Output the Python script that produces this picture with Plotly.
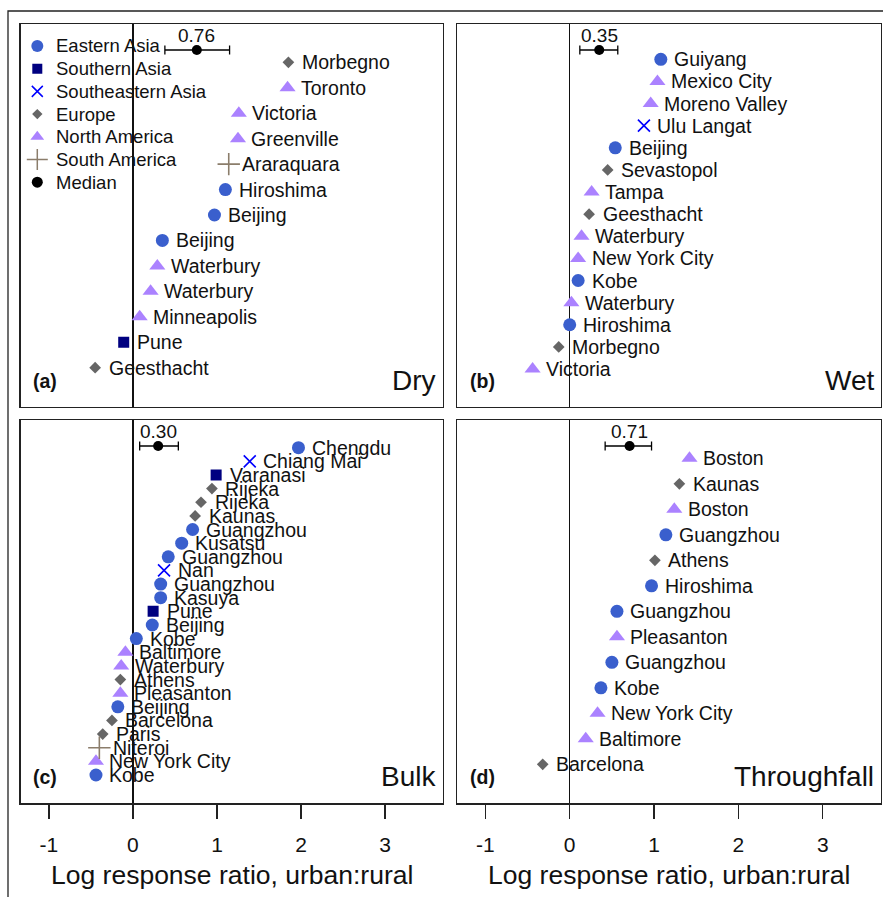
import plotly.graph_objects as go

# ---------------- data ----------------
dry_sites = ["Morbegno", "Toronto", "Victoria", "Greenville", "Araraquara", "Hiroshima",
             "Beijing", "Beijing", "Waterbury", "Waterbury", "Minneapolis", "Pune", "Geesthacht"]
dry_regions = ["Europe", "North America", "North America", "North America", "South America",
               "Eastern Asia", "Eastern Asia", "Eastern Asia", "North America", "North America",
               "North America", "Southern Asia", "Europe"]
dry_lrr = [1.85, 1.84, 1.26, 1.25, 1.14, 1.10, 0.97, 0.35, 0.29, 0.21, 0.08, -0.11, -0.45]

wet_sites = ["Guiyang", "Mexico City", "Moreno Valley", "Ulu Langat", "Beijing", "Sevastopol",
             "Tampa", "Geesthacht", "Waterbury", "New York City", "Kobe", "Waterbury",
             "Hiroshima", "Morbegno", "Victoria"]
wet_regions = ["Eastern Asia", "North America", "North America", "Southeastern Asia", "Eastern Asia",
               "Europe", "North America", "Europe", "North America", "North America",
               "Eastern Asia", "North America", "Eastern Asia", "Europe", "North America"]
wet_lrr = [1.08, 1.04, 0.96, 0.88, 0.54, 0.45, 0.26, 0.23, 0.14, 0.10, 0.10, 0.02, 0.00, -0.13, -0.44]

bulk_sites = ["Chengdu", "Chiang Mai", "Varanasi", "Rijeka", "Rijeka", "Kaunas", "Guangzhou",
              "Kusatsu", "Guangzhou", "Nan", "Guangzhou", "Kasuya", "Pune", "Beijing", "Kobe",
              "Baltimore", "Waterbury", "Athens", "Pleasanton", "Beijing", "Barcelona", "Paris",
              "Niteroi", "New York City", "Kobe"]
bulk_regions = ["Eastern Asia", "Southeastern Asia", "Southern Asia", "Europe", "Europe", "Europe",
                "Eastern Asia", "Eastern Asia", "Eastern Asia", "Southeastern Asia", "Eastern Asia",
                "Eastern Asia", "Southern Asia", "Eastern Asia", "Eastern Asia", "North America",
                "North America", "Europe", "North America", "Eastern Asia", "Europe", "Europe",
                "South America", "North America", "Eastern Asia"]
bulk_lrr = [1.97, 1.39, 0.99, 0.94, 0.81, 0.74, 0.71, 0.58, 0.42, 0.37, 0.33, 0.33, 0.24, 0.23,
            0.04, -0.09, -0.14, -0.15, -0.15, -0.18, -0.25, -0.36, -0.40, -0.44, -0.44]

tf_sites = ["Boston", "Kaunas", "Boston", "Guangzhou", "Athens", "Hiroshima", "Guangzhou",
            "Pleasanton", "Guangzhou", "Kobe", "New York City", "Baltimore", "Barcelona"]
tf_regions = ["North America", "Europe", "North America", "Eastern Asia", "Europe", "Eastern Asia",
              "Eastern Asia", "North America", "Eastern Asia", "Eastern Asia", "North America",
              "North America", "Europe"]
tf_lrr = [1.42, 1.30, 1.24, 1.14, 1.01, 0.97, 0.56, 0.56, 0.50, 0.37, 0.33, 0.19, -0.32]

median_values = [0.76, 0.35, 0.30, 0.71]
median_low = [0.38, 0.12, 0.08, 0.42]
median_high = [1.15, 0.57, 0.54, 0.97]
median_labels = ["0.76", "0.35", "0.30", "0.71"]

panel_letters = ["(a)", "(b)", "(c)", "(d)"]
panel_names = ["Dry", "Wet", "Bulk", "Throughfall"]

legend_labels = ["Eastern Asia", "Southern Asia", "Southeastern Asia", "Europe",
                 "North America", "South America", "Median"]

tick_values = [-1, 0, 1, 2, 3]
tick_labels = ["-1", "0", "1", "2", "3"]
x_title = "Log response ratio, urban:rural"

# ---------------- styles ----------------
FONT = "Liberation Sans, Arial, sans-serif"
styles = {
    "Eastern Asia": dict(symbol="circle", color="#3A5FCD", size=13, lsize=12),
    "Southern Asia": dict(symbol="square", color="#000080", size=11, lsize=10),
    "Southeastern Asia": dict(symbol="x-thin-open", color="#0000FF", size=12, lsize=11),
    "Europe": dict(symbol="diamond", color="#666666", size=9, lsize=8),
    "North America": dict(symbol="triangle-up", color="#AB82FF", size=14, lsize=12),
    "South America": dict(symbol="cross-thin-open", color="#8B7D6B", size=16, lsize=15),
    "Median": dict(symbol="circle", color="#000000", size=10, lsize=11),
}

W, H = 883, 897
px_x = [(20.7, 443.0), (457.0, 881.0), (20.7, 443.0), (457.0, 881.0)]
px_y = [(24.0, 406.7), (24.0, 406.7), (420.0, 803.3), (420.0, 803.3)]
y_ranges = [(-0.532, 14.505), (-0.704, 16.596), (-1.075, 27.03), (-0.529, 14.502)]
x_range = [-1.336, 3.69]

panels = [
    (dry_sites, dry_regions, dry_lrr),
    (wet_sites, wet_regions, wet_lrr),
    (bulk_sites, bulk_regions, bulk_lrr),
    (tf_sites, tf_regions, tf_lrr),
]

fig = go.Figure()
annotations = []
layout_axes = {}

for p, (sites, regions, vals) in enumerate(panels):
    k = "" if p == 0 else str(p + 1)
    xa, ya = "x" + k, "y" + k
    n = len(sites)
    ranks = [n - i for i in range(n)]
    # points by region
    for reg in legend_labels[:-1]:
        idx = [i for i in range(n) if regions[i] == reg]
        if not idx:
            continue
        st = styles[reg]
        thin = "thin" in st["symbol"]
        fig.add_trace(go.Scatter(
            x=[vals[i] for i in idx], y=[ranks[i] for i in idx],
            mode="markers", xaxis=xa, yaxis=ya, showlegend=False,
            marker=dict(symbol=st["symbol"], size=st["size"], color=st["color"],
                        line=dict(width=1.6 if thin else 0, color=st["color"])),
            hoverinfo="skip"))
    for i in range(n):
        annotations.append(dict(x=vals[i], y=ranks[i], xref=xa, yref=ya, text=sites[i],
                                showarrow=False, xanchor="left", yanchor="middle", xshift=11.5,
                                font=dict(family=FONT, size=19.5, color="#111")))
    # median
    lo, hi = y_ranges[p]
    ppu = (px_y[p][1] - px_y[p][0]) / (hi - lo)
    my = hi - 26.0 / ppu
    m = median_values[p]
    fig.add_trace(go.Scatter(
        x=[m], y=[my], mode="markers", xaxis=xa, yaxis=ya, showlegend=False,
        marker=dict(symbol="circle", size=10, color="black"),
        error_x=dict(type="data", symmetric=False, array=[median_high[p] - m],
                     arrayminus=[m - median_low[p]], thickness=1.3, width=4.5, color="black"),
        hoverinfo="skip"))
    annotations.append(dict(x=m, y=my, xref=xa, yref=ya, text=median_labels[p], showarrow=False,
                            xanchor="center", yanchor="middle", yshift=14.5,
                            font=dict(family=FONT, size=19, color="#111")))
    # panel letter and name
    annotations.append(dict(x=0, y=0, xref=xa + " domain", yref=ya + " domain", text="<b>" + panel_letters[p] + "</b>",
                            showarrow=False, xanchor="left", yanchor="bottom", xshift=10.5, yshift=13,
                            font=dict(family=FONT, size=19.5, color="#111")))
    annotations.append(dict(x=1, y=0, xref=xa + " domain", yref=ya + " domain", text=panel_names[p],
                            showarrow=False, xanchor="right", yanchor="bottom", xshift=-5, yshift=9,
                            font=dict(family=FONT, size=28, color="#111")))

    bottom = p >= 2
    layout_axes["xaxis" + k] = dict(
        domain=[px_x[p][0] / W, px_x[p][1] / W], range=x_range, anchor=ya,
        showline=True, mirror=True, linecolor="#222", linewidth=1.3,
        showgrid=False, zeroline=True, zerolinecolor="#111", zerolinewidth=1.3,
        ticks="outside" if bottom else "", ticklen=14, tickwidth=1.3, tickcolor="#222",
        tickvals=tick_values, ticktext=tick_labels, showticklabels=bottom,
        tickfont=dict(family=FONT, size=21, color="#111"), ticklabelstandoff=8,
    )
    layout_axes["yaxis" + k] = dict(
        domain=[1 - px_y[p][1] / H, 1 - px_y[p][0] / H], range=[lo, hi], anchor=xa,
        showline=True, mirror=True, linecolor="#222", linewidth=1.3,
        showgrid=False, zeroline=False, ticks="", showticklabels=False,
    )
    if bottom:
        annotations.append(dict(x=0.5, y=1 - 875.0 / H, xref=xa + " domain", yref="paper", text=x_title,
                                showarrow=False, xanchor="center", yanchor="middle",
                                font=dict(family=FONT, size=26.5, color="#111")))

# legend drawn in an overlay axis over panel (a), in pixel units
lw = px_x[0][1] - px_x[0][0]
lh = px_y[0][1] - px_y[0][0]
layout_axes["xaxis5"] = dict(domain=[px_x[0][0] / W, px_x[0][1] / W], range=[0, lw], visible=False, anchor="y5")
layout_axes["yaxis5"] = dict(domain=[1 - px_y[0][1] / H, 1 - px_y[0][0] / H], range=[lh, 0], visible=False, anchor="x5")
for j, lab in enumerate(legend_labels):
    st = styles[lab]
    thin = "thin" in st["symbol"]
    ly = 22.0 + 22.7 * j
    fig.add_trace(go.Scatter(
        x=[16.6], y=[ly], mode="markers", xaxis="x5", yaxis="y5", showlegend=False,
        marker=dict(symbol=st["symbol"], size=st["lsize"], color=st["color"],
                    line=dict(width=1.5 if thin else 0, color=st["color"])),
        hoverinfo="skip"))
    annotations.append(dict(x=16.6, y=ly, xref="x5", yref="y5", text=lab, showarrow=False,
                            xanchor="left", yanchor="middle", xshift=16.5,
                            font=dict(family=FONT, size=18.5, color="#111")))

fig.update_layout(
    width=W, height=H, margin=dict(l=0, r=0, t=0, b=0),
    paper_bgcolor="white", plot_bgcolor="rgba(0,0,0,0)",
    showlegend=False, annotations=annotations,
    shapes=[dict(type="rect", xref="paper", yref="paper", x0=8.0 / W, x1=1.02, y0=-0.02, y1=1 - 11.0 / H,
                 line=dict(color="#222", width=1.3), fillcolor="rgba(0,0,0,0)", layer="below")],
    **layout_axes,
)

fig.write_html("out.html", config={"displayModeBar": False, "staticPlot": True},
               post_script="document.body.style.margin='0';document.body.style.overflow='hidden';")
